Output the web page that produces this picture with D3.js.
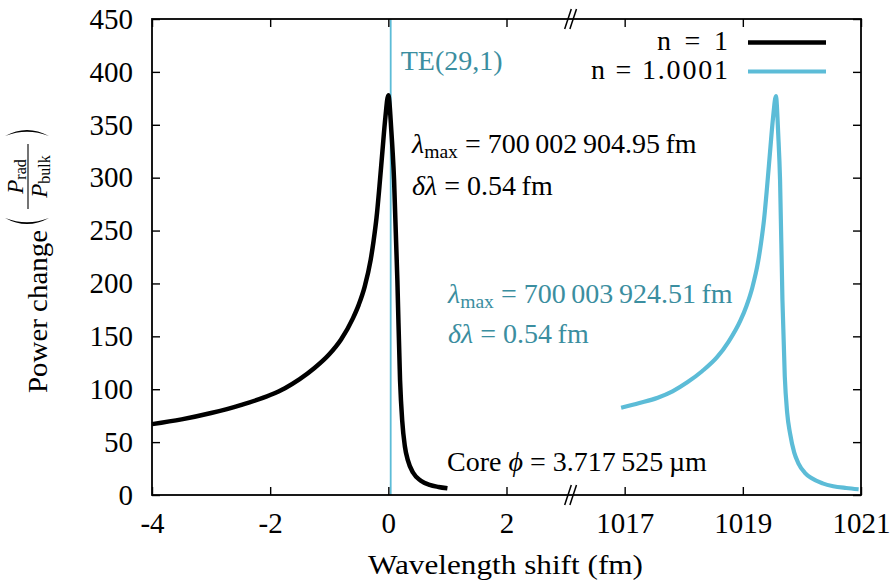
<!DOCTYPE html>
<html>
<head>
<meta charset="utf-8">
<script src="https://cdn.jsdelivr.net/npm/d3@7"></script>
<style>
  body { margin: 0; background: #fff; }
  svg text { font-family: "Liberation Serif", "Times New Roman", serif; }
</style>
</head>
<body>
<svg id="chart" width="892" height="587"></svg>
<script>
// Resonance of the TE(29,1) mode: power ratio vs. wavelength shift (fm)
// Series n = 1 (near 0 fm)
const shiftN1 = [-4, -3.5, -3, -2.5, -2, -1.75, -1.5, -1.25, -1, -0.8, -0.6, -0.5, -0.4, -0.3,
                 -0.25, -0.2, -0.15, -0.1, -0.05, 0,
                 0.05, 0.097, 0.153, 0.198, 0.235, 0.28, 0.33, 0.42, 0.55, 0.7, 0.85, 1.0];
const powerN1 = [67, 71.5, 77.5, 85, 94.5, 101, 109.5, 120, 133, 147, 167, 180, 197, 222,
                 240, 262, 292, 325, 357, 378,
                 345, 298, 203, 109, 70, 46, 33, 21, 13.5, 9.5, 7.6, 6.3];
// Series n = 1.0001 (near 1019.56 fm)
const shiftN2 = [1016.94, 1017.25, 1017.56, 1017.81, 1018.06, 1018.31, 1018.56, 1018.76, 1018.96,
                 1019.06, 1019.16, 1019.26, 1019.31, 1019.36, 1019.41, 1019.46, 1019.51, 1019.56,
                 1019.6, 1019.63, 1019.67, 1019.71, 1019.75, 1019.8, 1019.87, 1019.94,
                 1020.05, 1020.16, 1020.35, 1020.53, 1020.75, 1020.96];
const powerN2 = [82.5, 87, 92, 98, 106.5, 117, 130, 145, 165,
                 178.5, 196, 221, 239, 261, 291, 324, 356, 377,
                 340, 298, 185, 112, 78, 58, 40, 30,
                 21, 16, 11, 8.3, 6.6, 5.4];

const yTicks = [0, 50, 100, 150, 200, 250, 300, 350, 400, 450];
const xTicksLeft = [-4, -2, 0, 2];
const xTicksRight = [1017, 1019, 1021];
const seriesNames = ["n = 1", "n = 1.0001"];
const seriesColors = ["#000000", "#5cbcd7"];
const textTeal = "#3b8ea0";
const lambdaMax = [700002904.95, 700003924.51];   // fm
const deltaLambda = [0.54, 0.54];                 // fm
const modeLabel = "TE(29,1)";
const modeShift = 0.04;
const coreDiameter = 3.717525;                    // µm

// ---- layout ----
const plotL = 152, plotR = 861, plotT = 19, plotB = 495;
const leftDomain = [-4, 3], rightDomain = [1016, 1021];
const unit = (plotR - plotL) / ((leftDomain[1] - leftDomain[0]) + (rightDomain[1] - rightDomain[0]));
const breakX = plotL + (leftDomain[1] - leftDomain[0]) * unit;
const xL = d3.scaleLinear(leftDomain, [plotL, breakX]);
const xR = d3.scaleLinear(rightDomain, [breakX, plotR]);
const y = d3.scaleLinear([0, 450], [plotB, plotT]);

const svg = d3.select("#chart");
const FS = 28;       // label size
const TICK_FS = 29;  // tick label size

// siunitx-like digit grouping with thin spaces
function fmtNum(v, dec) {
  const s = v.toFixed(dec);
  let [ip, fp] = s.split(".");
  if (ip.length >= 5) ip = ip.replace(/\B(?=(\d{3})+(?!\d))/g, "\u2009");
  if (fp && fp.length >= 5) fp = fp.replace(/(\d{3})(?=\d)/g, "$1\u2009");
  return fp ? ip + "." + fp : ip;
}

// ---- mode marker line (behind curves) ----
svg.append("line")
  .attr("x1", xL(modeShift)).attr("x2", xL(modeShift))
  .attr("y1", plotT).attr("y2", plotB)
  .attr("stroke", seriesColors[1]).attr("stroke-width", 1.8);

// ---- axes ----
function styleAxis(g) {
  g.select(".domain").remove();
  g.selectAll(".tick line").attr("stroke", "#000").attr("stroke-width", 1.4);
  g.selectAll(".tick text")
    .attr("font-family", "Liberation Serif, serif")
    .attr("font-size", TICK_FS).attr("fill", "#000")
    .text(function () { return this.textContent.replace("\u2212", "-"); });
  g.attr("font-family", null).attr("font-size", null);
}
svg.append("g").attr("transform", `translate(0,${plotB})`)
  .call(d3.axisBottom(xL).tickValues(xTicksLeft).tickSize(-8).tickSizeOuter(0).tickPadding(17).tickFormat(d3.format("d")))
  .call(styleAxis);
svg.append("g").attr("transform", `translate(0,${plotB})`)
  .call(d3.axisBottom(xR).tickValues(xTicksRight).tickSize(-8).tickSizeOuter(0).tickPadding(17).tickFormat(d3.format("d")))
  .call(styleAxis);
svg.append("g").attr("transform", `translate(0,${plotT})`)
  .call(d3.axisTop(xL).tickValues(xTicksLeft).tickSize(-8).tickSizeOuter(0).tickFormat(""))
  .call(styleAxis);
svg.append("g").attr("transform", `translate(0,${plotT})`)
  .call(d3.axisTop(xR).tickValues(xTicksRight).tickSize(-8).tickSizeOuter(0).tickFormat(""))
  .call(styleAxis);
svg.append("g").attr("transform", `translate(${plotL},0)`)
  .call(d3.axisLeft(y).tickValues(yTicks).tickSize(-8).tickSizeOuter(0).tickPadding(19))
  .call(styleAxis);
svg.append("g").attr("transform", `translate(${plotR},0)`)
  .call(d3.axisRight(y).tickValues(yTicks).tickSize(-8).tickSizeOuter(0).tickFormat(""))
  .call(styleAxis);

// frame
svg.append("rect")
  .attr("x", plotL).attr("y", plotT)
  .attr("width", plotR - plotL).attr("height", plotB - plotT)
  .attr("fill", "none").attr("stroke", "#000").attr("stroke-width", 1.8);

// axis break marks
[plotT, plotB].forEach(cy => {
  [-2.6, 2.6].forEach(off => {
    const cx = breakX + 5 + off;
    svg.append("line")
      .attr("x1", cx - 3.3).attr("y1", cy + 10)
      .attr("x2", cx + 3.3).attr("y2", cy - 10)
      .attr("stroke", "#000").attr("stroke-width", 1.5);
  });
});

// ---- curves ----
const lineL = d3.line().x(d => xL(d[0])).y(d => y(d[1])).curve(d3.curveMonotoneX);
const lineR = d3.line().x(d => xR(d[0])).y(d => y(d[1])).curve(d3.curveMonotoneX);
svg.append("path")
  .attr("d", lineL(d3.zip(shiftN1, powerN1)))
  .attr("fill", "none").attr("stroke", seriesColors[0]).attr("stroke-width", 4.5)
  .attr("stroke-linejoin", "round");
svg.append("path")
  .attr("d", lineR(d3.zip(shiftN2, powerN2)))
  .attr("fill", "none").attr("stroke", seriesColors[1]).attr("stroke-width", 4.2)
  .attr("stroke-linejoin", "round");

// ---- math-style labels ----
function mathText(x, yy, parts, color, size) {
  const fs = size || FS;
  const t = svg.append("text").attr("x", x).attr("y", yy)
    .attr("font-size", fs).attr("fill", color || "#000");
  let shifted = 0;
  parts.forEach(p => {
    const ts = t.append("tspan").text(p.t);
    if (p.i) ts.attr("font-style", "italic");
    if (p.sub) {
      ts.attr("font-size", fs * 0.7).attr("dy", 5);
      shifted = 5;
    } else if (shifted) {
      ts.attr("dy", -shifted);
      shifted = 0;
    }
  });
  return t;
}

// mode label
svg.append("text").attr("x", xL(modeShift) + 10).attr("y", 70)
  .attr("font-size", FS).attr("fill", textTeal).text(modeLabel);

// resonance annotations
const annot = [
  { x: 412, y1: 153, y2: 195, color: "#000" },
  { x: 448, y1: 303, y2: 343, color: textTeal }
];
annot.forEach((a, i) => {
  mathText(a.x, a.y1, [
    { t: "λ", i: true }, { t: "max", sub: true },
    { t: " = " + fmtNum(lambdaMax[i], 2) + "\u2009fm" }
  ], a.color);
  mathText(a.x, a.y2, [
    { t: "δλ", i: true },
    { t: " = " + fmtNum(deltaLambda[i], 2) + "\u2009fm" }
  ], a.color);
});

// core diameter
mathText(447, 471, [
  { t: "Core " }, { t: "ϕ", i: true },
  { t: " = " + fmtNum(coreDiameter, 6) + "\u2009µm" }
], "#000");

// ---- legend ----
const legendWidths = [71, 137];
seriesNames.forEach((name, i) => {
  const ly = 50 + i * 29;
  svg.append("text").attr("x", 728).attr("y", ly)
    .attr("text-anchor", "end").attr("font-size", FS).attr("fill", "#000")
    .attr("textLength", legendWidths[i]).attr("lengthAdjust", "spacing")
    .text(name);
  svg.append("line").attr("x1", 748).attr("x2", 826)
    .attr("y1", ly - 7.5).attr("y2", ly - 7.5)
    .attr("stroke", seriesColors[i]).attr("stroke-width", i ? 4.2 : 4.5);
});

// ---- axis titles ----
svg.append("text").attr("x", 368).attr("y", 574)
  .attr("font-size", FS).attr("fill", "#000")
  .attr("textLength", 275).attr("lengthAdjust", "spacingAndGlyphs")
  .text("Wavelength shift (fm)");

// y title: "Power change (P_rad / P_bulk)", rotated; u runs along the text, v across it
const yt = svg.append("g").attr("transform", "translate(47,0) rotate(-90)");
yt.append("text").attr("x", -393).attr("y", 0).attr("font-size", FS).attr("fill", "#000")
  .attr("textLength", 163).attr("lengthAdjust", "spacingAndGlyphs")
  .text("Power change");
// thin delimiters drawn as crescents
yt.append("path")
  .attr("d", "M-218,-42 Q-230,-20 -218,2 Q-226.5,-20 -218,-42 Z").attr("fill", "#000");
yt.append("path")
  .attr("d", "M-136,-42 Q-124,-20 -136,2 Q-127.5,-20 -136,-42 Z").attr("fill", "#000");
const fracC = -176.5;
yt.append("line").attr("x1", -209).attr("x2", -144).attr("y1", -19).attr("y2", -19)
  .attr("stroke", "#000").attr("stroke-width", 1.1);
const num = yt.append("text").attr("x", fracC).attr("y", -24).attr("text-anchor", "middle")
  .attr("font-size", 23).attr("fill", "#000");
num.append("tspan").attr("font-style", "italic").text("P");
num.append("tspan").attr("font-size", 16).attr("dy", 3).text("rad");
const den = yt.append("text").attr("x", fracC).attr("y", 0).attr("text-anchor", "middle")
  .attr("font-size", 23).attr("fill", "#000");
den.append("tspan").attr("font-style", "italic").text("P");
den.append("tspan").attr("font-size", 16).attr("dy", 3).text("bulk");
</script>
</body>
</html>
